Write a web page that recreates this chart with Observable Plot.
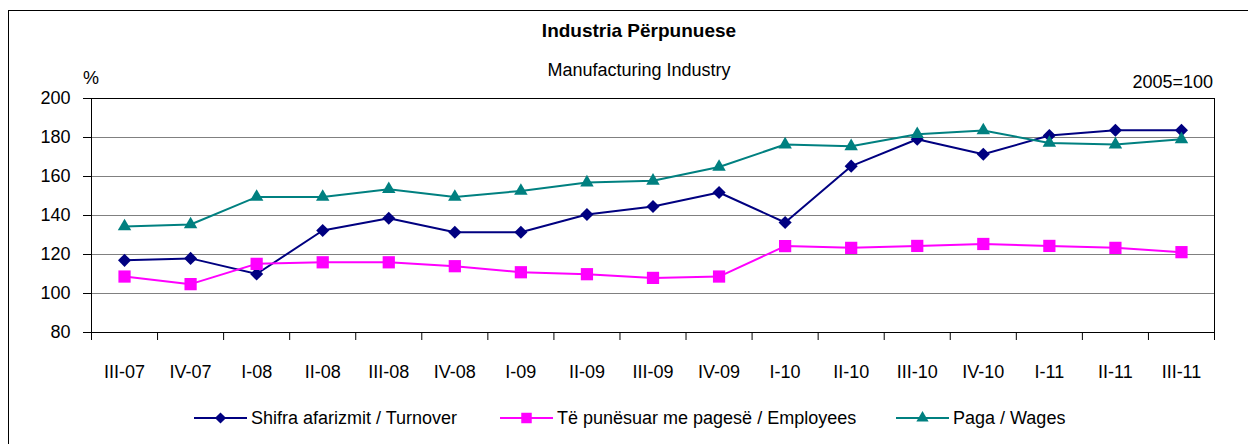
<!DOCTYPE html>
<html><head><meta charset="utf-8">
<script src="https://cdn.jsdelivr.net/npm/d3@7"></script>
<script src="https://cdn.jsdelivr.net/npm/@observablehq/plot@0.6"></script>
<style>
html,body{margin:0;padding:0;overflow:hidden;background:#fff;}
#wrap{position:relative;width:1248px;height:444px;overflow:hidden;font-family:"Liberation Sans",Arial,sans-serif;color:#000;}
#frame{position:absolute;left:8px;top:10px;width:1400px;height:700px;border:1px solid #000;box-sizing:border-box;}
#chart{position:absolute;left:0;top:0;}
#overlay{position:absolute;left:0;top:0;pointer-events:none;}
</style>
</head><body>
<div id="wrap"><div id="frame"></div><div id="chart"></div><svg id="overlay" width="1248" height="444"></svg></div>
<script>
const categories = ["III-07","IV-07","I-08","II-08","III-08","IV-08","I-09","II-09","III-09","IV-09","I-10","II-10","III-10","IV-10","I-11","II-11","III-11"];
const turnover = [117,118,110,132.3,138.6,131.4,131.4,140.5,144.6,151.8,136.4,165.3,179.1,171.4,181,183.7,183.7];
const employees = [108.7,104.8,115.2,116,116,114,110.9,109.9,108,108.7,124.3,123.4,124.4,125.4,124.4,123.4,121.2];
const wages = [134.4,135.4,149.5,149.5,153.5,149.5,152.6,156.9,157.8,164.9,176.4,175.5,181.7,183.6,177.2,176.4,179.1];
const yTicks = [80,100,120,140,160,180,200];
const seriesNames = ["Shifra afarizmit / Turnover","Të punësuar me pagesë / Employees","Paga / Wages"];
const title = "Industria Përpunuese";
const subtitle = "Manufacturing Industry";
const unitLabel = "%";
const baseLabel = "2005=100";

const series = [
  {name: seriesNames[0], values: turnover, color: "#000080", symbol: "diamond2", r: 5.9},
  {name: seriesNames[1], values: employees, color: "#FF00FF", symbol: "square", r: 6.9},
  {name: seriesNames[2], values: wages, color: "#008080", symbol: "triangle", r: 5.0}
];
const font = "Liberation Sans, Arial, sans-serif";

const marks = [
  Plot.ruleY(yTicks.slice(1, -1), {stroke: "#808080", strokeWidth: 1}),
  Plot.frame({stroke: "#000"}),
  Plot.axisY({ticks: yTicks, tickSize: 8, tickPadding: 13, label: null, fontSize: 18}),
  Plot.axisX({ticks: d3.range(categories.length + 1).map(i => i - 0.5), tickSize: 8, tickFormat: () => "", label: null}),
  Plot.axisX({ticks: d3.range(categories.length), tickSize: 0, tickPadding: 33, tickFormat: i => categories[i], label: null, fontSize: 18})
];
for (const s of series) {
  const rows = s.values.map((v, i) => ({i, v}));
  marks.push(Plot.line(rows, {x: "i", y: "v", stroke: s.color, strokeWidth: 2}));
  marks.push(Plot.dot(rows, {x: "i", y: "v", fill: s.color, stroke: "none", symbol: s.symbol, r: s.r}));
}

const chart = Plot.plot({
  width: 1248, height: 444,
  marginLeft: 91, marginRight: 34, marginTop: 98, marginBottom: 112,
  x: {type: "linear", domain: [-0.5, categories.length - 0.5]},
  y: {domain: [80, 200]},
  style: {fontFamily: font, fontSize: "18px", color: "#000", background: "transparent"},
  marks
});
document.getElementById("chart").appendChild(chart);

// header & legend
const ov = d3.select("#overlay").style("font-family", font);
ov.append("text").attr("x", 639).attr("y", 37).attr("text-anchor", "middle").attr("font-size", 19).attr("font-weight", "bold").text(title);
ov.append("text").attr("x", 639).attr("y", 76).attr("text-anchor", "middle").attr("font-size", 18).text(subtitle);
ov.append("text").attr("x", 83).attr("y", 84).attr("font-size", 18).text(unitLabel);
ov.append("text").attr("x", 1213).attr("y", 88).attr("text-anchor", "end").attr("font-size", 18).text(baseLabel);

const legendX = [194, 500, 896];
const symMap = {diamond2: d3.symbolDiamond2, square: d3.symbolSquare, triangle: d3.symbolTriangle};
const symSize = {diamond2: 80, square: 110, triangle: 65};
series.forEach((s, k) => {
  const g = ov.append("g").attr("transform", `translate(${legendX[k]},418)`);
  g.append("line").attr("x1", 0).attr("x2", 53).attr("stroke", s.color).attr("stroke-width", 2);
  g.append("path").attr("transform", "translate(26.5,0)").attr("d", d3.symbol(symMap[s.symbol], symSize[s.symbol])()).attr("fill", s.color);
  g.append("text").attr("x", 57).attr("y", 6).attr("font-size", 18).text(s.name);
});
</script>
</body></html>
